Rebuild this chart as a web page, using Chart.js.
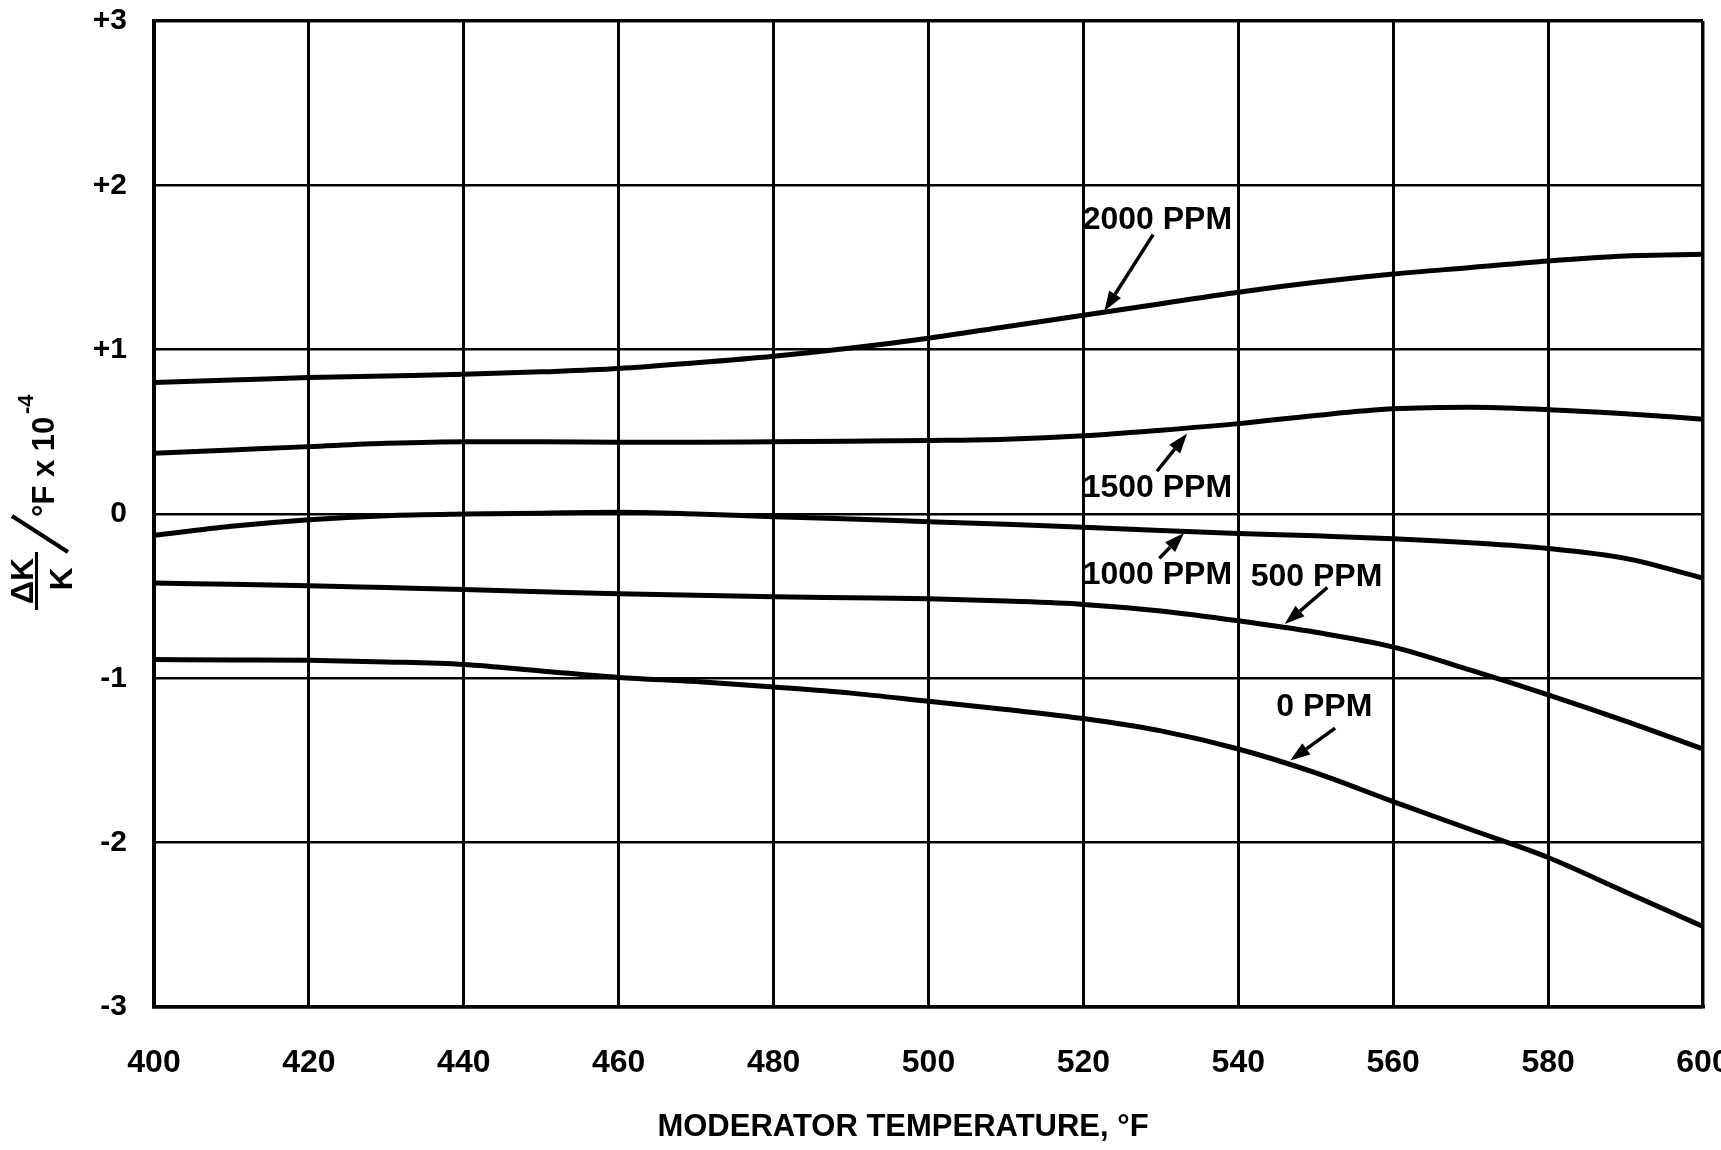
<!DOCTYPE html>
<html><head><meta charset="utf-8">
<script src="https://cdn.jsdelivr.net/npm/chart.js@4.4.1/dist/chart.umd.min.js"></script>
<style>html,body{margin:0;padding:0;background:#fff;}#wrap{width:1721px;height:1150px;}</style>
</head><body><div id="wrap"><canvas id="c" width="1721" height="1150"></canvas></div>
<script>
// ---- data ----
const temps   = [400,410,420,430,440,450,460,470,480,490,500,510,520,530,540,550,560,570,580,590,600];
const ppm2000 = [0.80,0.815,0.83,0.84,0.85,0.865,0.885,0.92,0.96,1.01,1.07,1.14,1.21,1.28,1.35,1.41,1.46,1.50,1.54,1.57,1.58];
const ppm1500 = [0.37,0.39,0.41,0.43,0.44,0.44,0.437,0.437,0.44,0.443,0.447,0.455,0.476,0.51,0.55,0.60,0.64,0.65,0.635,0.61,0.577];
const ppm1000 = [-0.13,-0.075,-0.035,-0.01,0.0,0.005,0.01,0.0,-0.016,-0.03,-0.047,-0.063,-0.08,-0.10,-0.118,-0.133,-0.15,-0.175,-0.21,-0.27,-0.39];
const ppm500  = [-0.42,-0.428,-0.436,-0.448,-0.46,-0.473,-0.486,-0.495,-0.504,-0.51,-0.516,-0.53,-0.55,-0.59,-0.65,-0.72,-0.81,-0.95,-1.10,-1.26,-1.43];
const ppm0    = [-0.886,-0.888,-0.89,-0.90,-0.916,-0.955,-0.995,-1.02,-1.053,-1.09,-1.14,-1.19,-1.245,-1.32,-1.43,-1.575,-1.75,-1.92,-2.09,-2.30,-2.51];
const seriesNames = ['2000 PPM','1500 PPM','1000 PPM','500 PPM','0 PPM'];
const xTickLabels = ['400','420','440','460','480','500','520','540','560','580','600'];
const yTickLabels = ['-3','-2','-1','0','+1','+2','+3'];
const xTitle = 'MODERATOR TEMPERATURE, °F';

// label placement in data units: text start (tx,ty), arrow tail (ax,ay) -> tip (bx,by)
const callouts = [
  {text:seriesNames[0], tx:519.9, ty:1.79,  ax:529.0, ay:1.70,  bx:522.7, by:1.235},
  {text:seriesNames[1], tx:519.9, ty:0.155, ax:529.5, ay:0.26,  bx:533.4, by:0.49},
  {text:seriesNames[2], tx:519.9, ty:-0.374,ax:529.8, ay:-0.27, bx:533.0, by:-0.115},
  {text:seriesNames[3], tx:541.6, ty:-0.385,ax:551.5, ay:-0.447,bx:546.0, by:-0.67},
  {text:seriesNames[4], tx:544.9, ty:-1.173,ax:552.5, ay:-1.303,bx:546.7, by:-1.50}
];

const FONT = '"Liberation Sans", Arial, sans-serif';
const allSeries = [ppm2000, ppm1500, ppm1000, ppm500, ppm0];
const datasets = allSeries.map((s, i) => ({
  label: seriesNames[i],
  data: temps.map((t, j) => ({x: t, y: s[j]})),
  borderColor: '#000', borderWidth: 5, pointRadius: 0,
  cubicInterpolationMode: 'monotone', fill: false
}));

function arrow(ctx, x0, y0, x1, y1) {
  const ang = Math.atan2(y1 - y0, x1 - x0);
  const hl = 20, hw = 7;
  const bx = x1 - hl * Math.cos(ang), by = y1 - hl * Math.sin(ang);
  ctx.beginPath(); ctx.moveTo(x0, y0); ctx.lineTo(bx, by);
  ctx.lineWidth = 3.5; ctx.strokeStyle = '#000'; ctx.stroke();
  ctx.beginPath();
  ctx.moveTo(x1, y1);
  ctx.lineTo(bx + hw * Math.sin(ang), by - hw * Math.cos(ang));
  ctx.lineTo(bx - hw * Math.sin(ang), by + hw * Math.cos(ang));
  ctx.closePath(); ctx.fillStyle = '#000'; ctx.fill();
}

const decor = {
  id: 'decor',
  afterDraw(chart) {
    const ctx = chart.ctx, xs = chart.scales.x, ys = chart.scales.y;
    ctx.save();
    ctx.fillStyle = '#000';
    ctx.font = 'bold 32px ' + FONT; ctx.textAlign = 'left'; ctx.textBaseline = 'middle';
    callouts.forEach(c => {
      ctx.fillStyle = '#000';
      ctx.fillText(c.text, xs.getPixelForValue(c.tx), ys.getPixelForValue(c.ty));
      arrow(ctx, xs.getPixelForValue(c.ax), ys.getPixelForValue(c.ay), xs.getPixelForValue(c.bx), ys.getPixelForValue(c.by));
    });
    ctx.fillStyle = '#000';
    ctx.font = 'bold 31px ' + FONT; ctx.textAlign = 'center'; ctx.textBaseline = 'middle';
    ctx.fillText(xTitle, 903, 1127);
    // y title (rotated, fraction)
    ctx.translate(0, 612); ctx.rotate(-Math.PI / 2);
    ctx.textBaseline = 'alphabetic'; ctx.textAlign = 'center';
    ctx.font = 'bold 32px ' + FONT;
    ctx.fillText('\u0394K', 31, 33);
    ctx.fillRect(2, 35, 58, 3);
    ctx.fillText('K', 33, 72);
    ctx.beginPath(); ctx.moveTo(60, 68); ctx.lineTo(96, 12); ctx.lineWidth = 4; ctx.strokeStyle = '#000'; ctx.stroke();
    ctx.textAlign = 'left';
    ctx.font = 'bold 31px ' + FONT;
    ctx.fillText('\u00b0F x 10', 95, 54);
    ctx.font = 'bold 22px ' + FONT;
    ctx.fillText('-4', 198, 33);
    ctx.restore();
  }
};

new Chart(document.getElementById('c'), {
  type: 'line',
  data: {datasets},
  options: {
    responsive: false, animation: false, devicePixelRatio: 1,
    layout: {padding: {left: 0, right: 18, top: 21, bottom: 0}},
    plugins: {legend: {display: false}, tooltip: {enabled: false}},
    scales: {
      x: {
        type: 'linear', min: 400, max: 600,
        afterFit: s => { s.height = 143; s.paddingLeft = 0; s.paddingRight = 0; },
        afterBuildTicks: s => { s.ticks = xTickLabels.map(l => ({value: Number(l)})); },
        ticks: {padding: 37, color: '#000', font: {family: FONT, size: 32, weight: 'bold'},
          callback: v => xTickLabels.find(l => Number(l) === v), maxRotation: 0, autoSkip: false},
        grid: {color: '#000', lineWidth: c => (c.tick && c.tick.value === 600 ? 3.5 : 3), drawTicks: false},
        border: {display: true, color: '#000', width: 3.5}
      },
      y: {
        min: -3, max: 3,
        afterFit: s => { s.width = 154; s.paddingTop = 0; s.paddingBottom = 0; },
        afterBuildTicks: s => { s.ticks = yTickLabels.map(l => ({value: Number(l)})); },
        ticks: {padding: 27, color: '#000', font: {family: FONT, size: 30, weight: 'bold'},
          callback: v => yTickLabels.find(l => Number(l) === v), autoSkip: false},
        grid: {color: '#000', lineWidth: c => (c.tick && c.tick.value === 3 ? 3.5 : 2.5), drawTicks: false},
        border: {display: true, color: '#000', width: 3.5}
      }
    }
  },
  plugins: [decor]
});
</script></body></html>
